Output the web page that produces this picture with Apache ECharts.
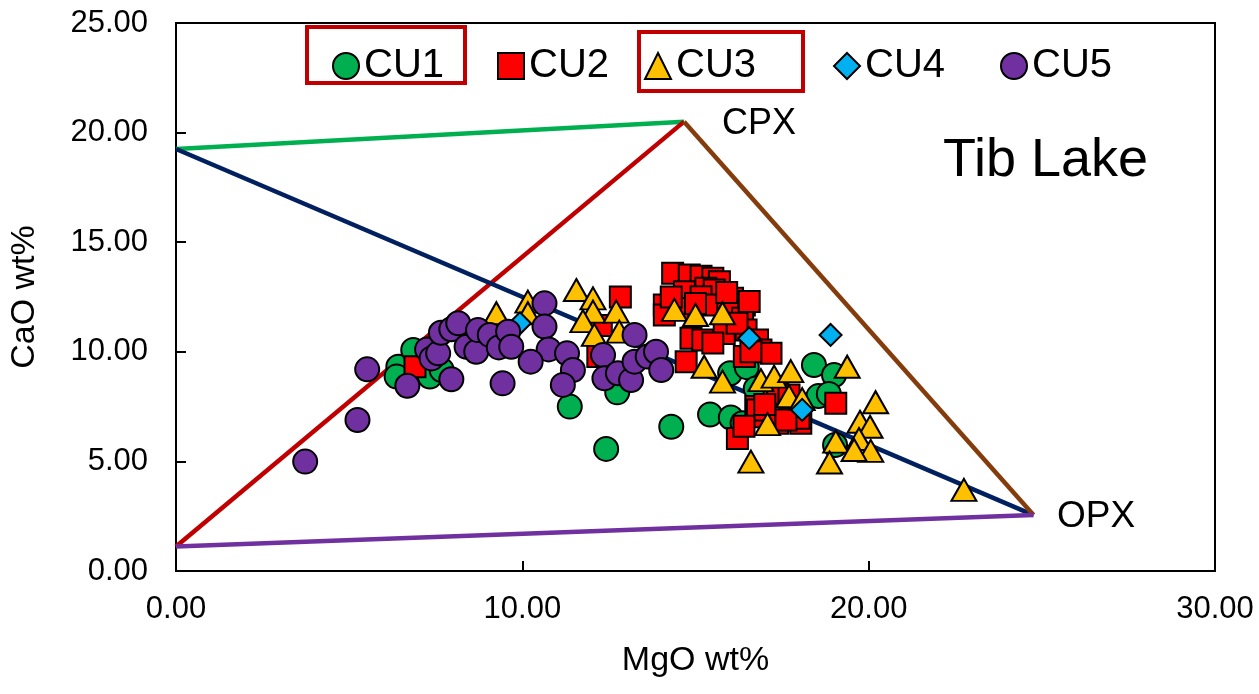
<!DOCTYPE html>
<html>
<head>
<meta charset="utf-8">
<script src="https://cdn.jsdelivr.net/npm/echarts@6/dist/echarts.min.js"></script>
<style>
  html, body { margin: 0; padding: 0; background: #fff; }
  #chart { width: 1259px; height: 694px; }
</style>
</head>
<body>
<div id="chart"></div>
<script>
// Pyroxene compositions, MgO vs CaO (wt%), Tib Lake
const seriesNames = ['CU1', 'CU2', 'CU3', 'CU4', 'CU5'];

const cu1 = [[6.42,9.32],[6.37,8.87],[6.85,10.08],[7.33,8.87],[7.67,9.17],[11.37,7.5],[12.74,8.15],
  [12.42,5.57],[14.3,6.58],[15.42,7.14],[16.02,7.0],[16.0,9.02],[16.48,9.3],[16.74,8.33],[16.36,6.74],
  [18.42,9.4],[19.0,8.94],[18.55,7.98],[18.85,8.08],[19.03,5.75]];

const cu2 = [[6.9,9.32],[12.18,9.78],[12.28,11.2],[12.83,12.5],
  [14.34,13.58],[14.82,13.5],[15.16,13.45],[15.5,13.35],[15.69,13.2],[15.3,12.9],[14.68,12.74],
  [15.54,12.82],[16.07,12.44],[14.1,12.13],[14.49,11.98],[15.16,12.51],[15.5,12.13],[16.41,12.13],
  [15.93,11.98],[14.1,11.68],[16.36,11.53],[14.87,10.62],[15.21,10.54],[15.83,10.84],[16.46,10.99],
  [16.79,10.54],[14.73,9.55],[16.41,9.78],[16.89,10.08],[17.18,9.93],[16.74,7.5],[17.27,7.95],
  [16.79,7.04],[17.37,6.89],[16.21,6.05],[19.05,7.65],[18.04,6.74],[17.37,8.11],[16.79,7.35],
  [17.37,6.74],[17.99,6.97],[17.61,6.89],[17.7,8.03],[16.55,12.29],[15.0,12.2],[15.9,12.7],
  [14.3,12.5],[16.6,10.0],[15.5,10.4],[16.2,11.3],[17.0,7.6],[16.4,6.6]];

const cu3 = [[9.25,11.76],[10.16,12.29],[10.16,11.76],[11.56,12.82],[12.04,12.44],[12.04,11.83],
  [11.75,11.4],[12.08,10.77],[12.71,11.83],[12.8,10.92],[14.39,11.91],[15.0,11.68],[15.78,11.76],
  [15.25,9.32],[15.78,8.64],[16.89,8.71],[17.27,8.87],[17.75,9.12],[17.7,7.98],[18.08,7.84],
  [17.08,6.7],[16.6,4.99],[19.38,9.32],[20.2,7.7],[19.75,6.81],[20.04,6.58],[19.72,6.02],
  [19.05,5.9],[20.06,5.48],[19.58,5.52],[18.87,4.95],[22.75,3.7]];

const cu4 = [[9.93,11.3],[16.55,10.62],[18.9,10.77],[18.08,7.35]];

const cu5 = [[3.73,4.99],[5.24,6.89],[5.52,9.2],[6.68,8.45],[7.25,10.11],[7.38,9.7],[7.57,9.93],
  [7.95,8.75],[7.65,10.87],[7.95,11.03],[8.15,11.3],[8.39,10.23],[8.67,10.0],[8.72,10.99],
  [9.06,10.77],[9.32,10.2],[9.59,10.92],[9.43,8.56],[9.68,10.23],[10.64,12.21],[10.64,11.15],
  [10.76,10.11],[10.24,9.55],[11.29,9.93],[11.46,9.17],[11.17,8.49],[12.33,9.85],[12.37,8.79],
  [12.76,9.02],[13.24,10.77],[13.14,8.71],[13.24,9.55],[13.62,9.78],[13.86,10.0],[14.01,9.17]];

// End-member tie lines of the pyroxene field
const caApex = [0, 19.25];
const baseApex = [0, 1.12];
const cpxPoint = [14.67, 20.5];
const opxPoint = [24.76, 2.55];

const xTicks = [0, 10, 20, 30];
const yTicks = [0, 5, 10, 15, 20, 25];

const chart = echarts.init(document.getElementById('chart'), null, { renderer: 'canvas' });

const FONT = '"Liberation Sans", Arial, sans-serif';

function tieLine(points, color) {
  return {
    type: 'line', data: points, symbol: 'none', silent: true, z: 1,
    lineStyle: { color: color, width: 4.5 }, legendHoverLink: false
  };
}

function pts(name, data, symbol, size, color) {
  return {
    name: name, type: 'scatter', data: data, symbol: symbol, symbolSize: size, z: 3,
    itemStyle: { color: color, borderColor: '#000', borderWidth: 2, opacity: 1 }
  };
}

const legendLeft = [332, 497, 644, 833, 1000];
const legends = seriesNames.map((n, i) => ({
  data: [n], left: legendLeft[i], top: 45, padding: 0,
  itemWidth: 26, itemHeight: 26, itemGap: 0, selectedMode: false,
  textStyle: { fontFamily: FONT, fontSize: 40, color: '#000', lineHeight: 42, padding: [0, 0, 0, 0] }
}));

chart.setOption({
  animation: false,
  backgroundColor: '#fff',
  grid: { left: 174, right: 44, top: 23, bottom: 123, show: true, borderColor: '#000', borderWidth: 2 },
  legend: legends,
  xAxis: {
    type: 'value', min: 0, max: 30, interval: 10,
    name: 'MgO wt%', nameLocation: 'middle', nameGap: 73,
    nameTextStyle: { fontFamily: FONT, fontSize: 34, color: '#000' },
    axisLine: { show: true, lineStyle: { color: '#000', width: 2 } },
    axisTick: { show: true, inside: true, length: 10, lineStyle: { color: '#000', width: 2 } },
    axisLabel: { fontFamily: FONT, fontSize: 31, color: '#000', margin: 23,
      formatter: v => xTicks.includes(v) ? v.toFixed(2) : '' },
    splitLine: { show: false }
  },
  yAxis: {
    type: 'value', min: 0, max: 25, interval: 5,
    name: 'CaO wt%', nameLocation: 'middle', nameGap: 134, nameRotate: 90,
    nameTextStyle: { fontFamily: FONT, fontSize: 34, color: '#000' },
    axisLine: { show: true, lineStyle: { color: '#000', width: 2 } },
    axisTick: { show: true, inside: true, length: 10, lineStyle: { color: '#000', width: 2 } },
    axisLabel: { fontFamily: FONT, fontSize: 31, color: '#000', margin: 28,
      formatter: v => yTicks.includes(v) ? v.toFixed(2) : '' },
    splitLine: { show: false }
  },
  series: [
    tieLine([caApex, cpxPoint], '#00B050'),
    tieLine([baseApex, cpxPoint], '#C00000'),
    tieLine([caApex, opxPoint], '#002060'),
    tieLine([cpxPoint, opxPoint], '#843C0C'),
    tieLine([baseApex, opxPoint], '#7030A0'),
    pts('CU1', cu1, 'circle', 24, '#00B050'),
    pts('CU2', cu2, 'rect', 21, '#FF0000'),
    pts('CU3', cu3, 'triangle', [25, 22], '#FFC000'),
    pts('CU4', cu4, 'diamond', 22, '#00B0F0'),
    pts('CU5', cu5, 'circle', 24, '#7030A0')
  ],
  graphic: [
    { type: 'rect', shape: { x: 307, y: 27, width: 158, height: 56 },
      style: { fill: 'none', stroke: '#C00000', lineWidth: 4 }, z: 10 },
    { type: 'rect', shape: { x: 639, y: 32, width: 164, height: 59 },
      style: { fill: 'none', stroke: '#C00000', lineWidth: 4 }, z: 10 },
    { type: 'text', left: 722, top: 106, z: 10,
      style: { text: 'CPX', fontFamily: FONT, fontSize: 36, fill: '#000' } },
    { type: 'text', left: 1057, top: 498, z: 10,
      style: { text: 'OPX', fontFamily: FONT, fontSize: 37, fill: '#000' } },
    { type: 'text', left: 943, top: 134, z: 10,
      style: { text: 'Tib Lake', fontFamily: FONT, fontSize: 54, fill: '#000' } }
  ]
});
</script>
</body>
</html>
